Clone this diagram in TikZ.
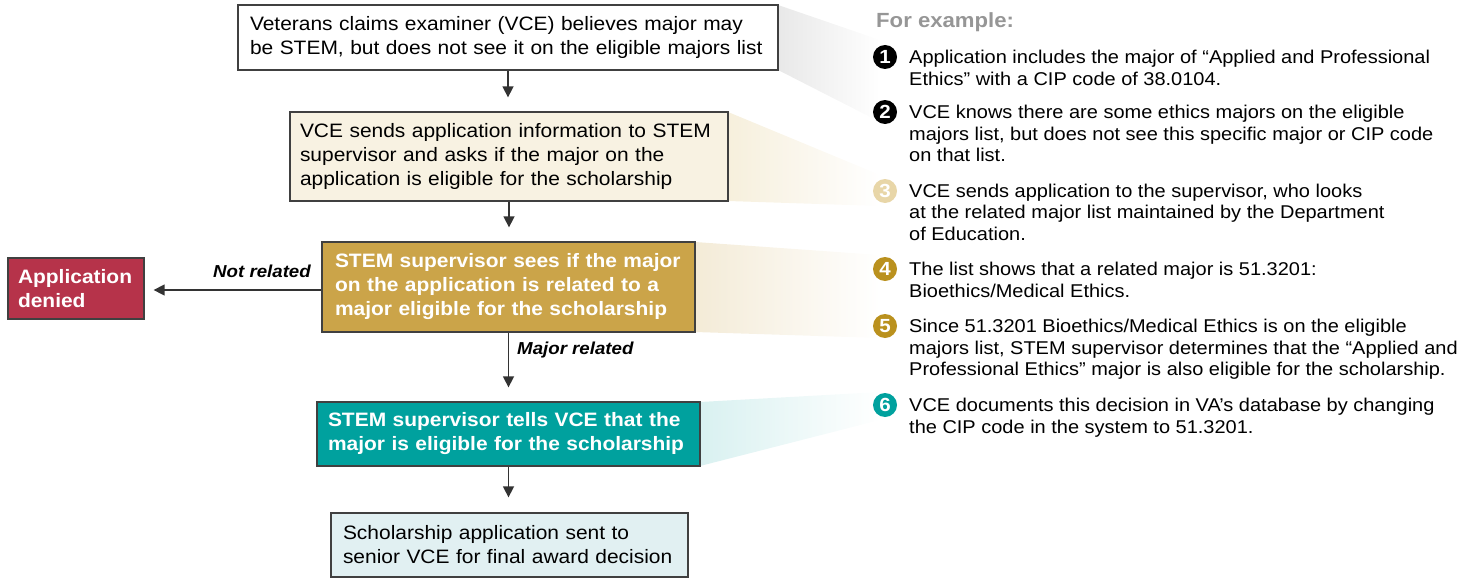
\documentclass[tikz,border=0pt]{standalone}
\usepackage{fontspec}
\setmainfont{Liberation Sans}[FakeStretch=1.08]
\usetikzlibrary{arrows.meta}
\definecolor{bordc}{RGB}{64,64,64}
\definecolor{beige}{RGB}{248,242,226}
\definecolor{goldbox}{RGB}{203,164,73}
\definecolor{goldnum}{RGB}{186,145,30}
\definecolor{tan}{RGB}{232,214,168}
\definecolor{tealbox}{RGB}{0,161,158}
\definecolor{lblue}{RGB}{225,240,242}
\definecolor{denred}{RGB}{182,51,74}
\definecolor{arrc}{RGB}{51,51,51}
\definecolor{graytxt}{RGB}{150,150,150}
\begin{document}
\begin{tikzpicture}[x=1pt,y=-1pt,
  box/.style={draw=bordc, line width=1.3pt, align=left, inner xsep=0pt, inner ysep=0pt,
    font=\fontsize{19.4}{24}\selectfont},
  wbox/.style={box, text=white, font=\fontsize{19.4}{24}\selectfont\bfseries},
  arr/.style={draw=arrc, line width=1.5pt, -{Triangle[length=11pt,width=11pt]}},
  lab/.style={font=\fontsize{17.3}{20}\selectfont\bfseries\itshape, inner sep=0pt},
  num/.style={circle, inner sep=0pt, minimum size=24pt, text=white,
    font=\fontsize{19}{19}\selectfont\bfseries},
  item/.style={anchor=north west, align=left, inner sep=0pt,
    font=\fontsize{18.5}{21.5}\selectfont}
]
\useasboundingbox (0,0) rectangle (1475,578);

% wedges
\shade[left color=black!9, right color=white] (778,5) -- (880,40) -- (880,122) -- (778,70) -- cycle;
\shade[left color=beige!90!tan, right color=white] (728,112) -- (880,175) -- (880,206) -- (728,201) -- cycle;
\shade[left color=goldbox!22, right color=white] (695,242) -- (880,255) -- (880,338) -- (695,332) -- cycle;
\shade[left color=tealbox!15, right color=white] (700,402) -- (880,392) -- (880,420) -- (700,466) -- cycle;

% boxes
\node[box, fill=white, minimum width=540pt, minimum height=65pt, text width=516pt] (b1) at (508,37.5)
  {\mbox{Veterans claims examiner (VCE) believes major may}\\\mbox{be STEM, but does not see it on the eligible majors list}};
\node[box, fill=beige, minimum width=438pt, minimum height=89pt, text width=418pt] (b2) at (509,156.5)
  {\mbox{VCE sends application information to STEM}\\\mbox{supervisor and asks if the major on the}\\\mbox{application is eligible for the scholarship}};
\node[wbox, fill=goldbox, minimum width=373pt, minimum height=90pt, text width=347pt] (b3) at (508.5,287)
  {\mbox{STEM supervisor sees if the major}\\\mbox{on the application is related to a}\\\mbox{major eligible for the scholarship}};
\node[wbox, fill=denred, minimum width=136pt, minimum height=61pt, text width=116pt] (den) at (76,288.5)
  {\mbox{Application}\\\mbox{denied}};
\node[wbox, fill=tealbox, minimum width=383pt, minimum height=64pt, text width=361pt] (b4) at (508.5,434)
  {\mbox{STEM supervisor tells VCE that the}\\\mbox{major is eligible for the scholarship}};
\node[box, fill=lblue, minimum width=357pt, minimum height=64pt, text width=333pt] (b5) at (509.5,545)
  {\mbox{Scholarship application sent to}\\\mbox{senior VCE for final award decision}};

% arrows
\draw[arr, shorten >=14pt] (b1.south) -- (b1.south |- b2.north);
\draw[arr, shorten >=14pt] (b2.south) -- (b2.south |- b3.north);
\draw[arr, shorten >=14pt] (b3.south) -- (b3.south |- b4.north);
\draw[arr, shorten >=15pt] (b4.south) -- (b4.south |- b5.north);
\draw[arr, shorten >=9pt] (b3.west |- 0,290) -- (den.east |- 0,290);
\node[lab, anchor=east] (nr) at (311,271) {Not related};
\node[lab, anchor=west] (mr) at (517,350) {Major related};

% right column
\node[anchor=west, inner sep=0pt, text=graytxt, font=\fontsize{20.5}{22}\selectfont\bfseries] (fe) at (876,22) {For example:};
\node[num, fill=black] (n1) at (885,57) {1};
\node[num, fill=black] (n2) at (885,112) {2};
\node[num, fill=tan] (n3) at (885,191) {3};
\node[num, fill=goldnum] (n4) at (885,269) {4};
\node[num, fill=goldnum] (n5) at (885,326) {5};
\node[num, fill=tealbox] (n6) at (885,405) {6};
\node[item] (t1) at (909,50) {Application includes the major of “Applied and Professional\\Ethics” with a CIP code of 38.0104.};
\node[item] (t2) at (909,105) {VCE knows there are some ethics majors on the eligible\\majors list, but does not see this specific major or CIP code\\on that list.};
\node[item] (t3) at (909,183.5) {VCE sends application to the supervisor, who looks\\at the related major list maintained by the Department\\of Education.};
\node[item] (t4) at (909,262) {The list shows that a related major is 51.3201:\\Bioethics/Medical Ethics.};
\node[item] (t5) at (909,319) {Since 51.3201 Bioethics/Medical Ethics is on the eligible\\majors list, STEM supervisor determines that the “Applied and\\Professional Ethics” major is also eligible for the scholarship.};
\node[item] (t6) at (909,398) {VCE documents this decision in VA’s database by changing\\the CIP code in the system to 51.3201.};
\end{tikzpicture}
\end{document}
